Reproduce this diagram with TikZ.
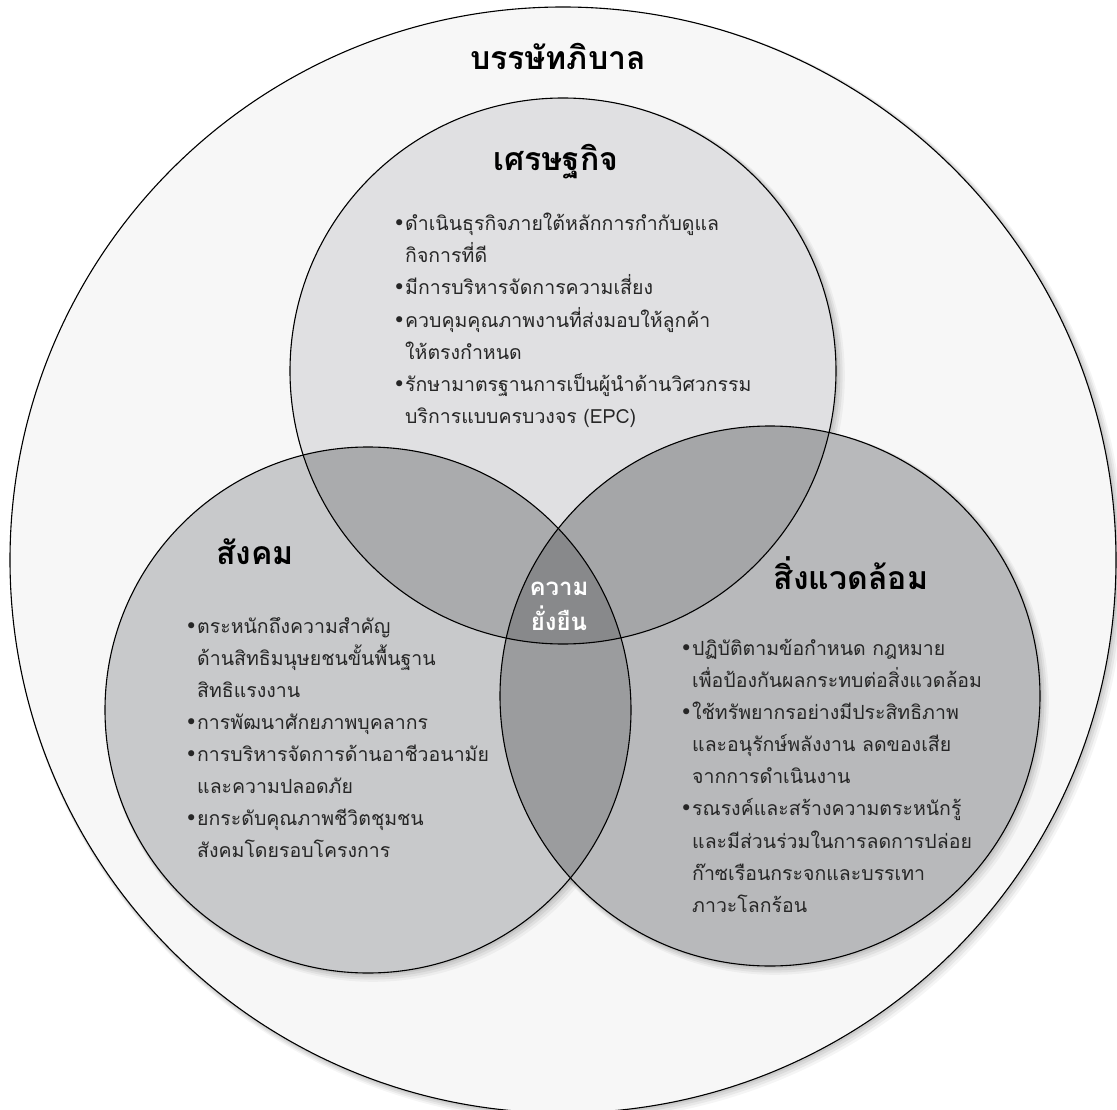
\documentclass[tikz,border=0pt]{standalone}
\usepackage{fontspec}
\usetikzlibrary{calc}
\newfontfamily\thai[Script=Thai]{Loma}
\newfontfamily\sym{DejaVu Sans}
\definecolor{cbg}{HTML}{F7F7F7}
\definecolor{ctop}{HTML}{E0E0E2}
\definecolor{cleft}{HTML}{C8C9CB}
\definecolor{cright}{HTML}{B8B9BB}
\definecolor{ctl}{HTML}{AAABAD}
\definecolor{ctr}{HTML}{A5A6A8}
\definecolor{clr}{HTML}{9B9C9E}
\definecolor{cmid}{HTML}{88898B}
\newcommand{\bul}{\makebox[11pt][l]{\hspace*{-1pt}\sym\fontsize{21}{21}\selectfont •}}
\newcommand{\ind}{\hspace*{11pt}}
\tikzset{
  ring/.style={draw=black, line width=1.1pt},
  head/.style={font=\thai\bfseries\fontsize{32}{36}\selectfont, inner sep=0pt},
  body/.style={font=\thai\fontsize{19.5}{32.1}\selectfont, align=left, anchor=north west, inner sep=0pt, text=black!85},
}
\begin{document}
\begin{tikzpicture}[x=1pt,y=-1pt]
\useasboundingbox (0,0) rectangle (1117,1110);
\fill[white] (0,0) rectangle (1117,1110);
\begin{scope}
\clip (0,0) rectangle (1117,1110);
\coordinate (O) at (563,560);
\coordinate (T) at (563,371);
\coordinate (L) at (368,710);
\coordinate (R) at (770,696);
% soft shadows
\foreach \k/\o in {8/0.04,6/0.05,4/0.06,2/0.07}{
  \fill[black,opacity=\o] ($(O)+(\k*0.6,\k*0.6)$) circle (553+\k*0.5);
}
\fill[cbg] (O) circle (553);
\draw[ring] (O) circle (553);
\foreach \k/\o in {8/0.04,6/0.05,4/0.06,2/0.07}{
  \fill[black,opacity=\o] ($(T)+(\k*0.6,\k*0.6)$) circle (273+\k*0.5);
  \fill[black,opacity=\o] ($(L)+(\k*0.6,\k*0.6)$) circle (263+\k*0.5);
  \fill[black,opacity=\o] ($(R)+(\k*0.6,\k*0.6)$) circle (270+\k*0.5);
}
\end{scope}
\fill[ctop] (T) circle (273);
\fill[cleft] (L) circle (263);
\fill[cright] (R) circle (270);
\begin{scope}\clip (T) circle (273); \fill[ctl] (L) circle (263);\end{scope}
\begin{scope}\clip (T) circle (273); \fill[ctr] (R) circle (270);\end{scope}
\begin{scope}\clip (L) circle (263); \fill[clr] (R) circle (270);\end{scope}
\begin{scope}\clip (T) circle (273); \clip (L) circle (263); \fill[cmid] (R) circle (270);\end{scope}
\draw[ring] (T) circle (273);
\draw[ring] (L) circle (263);
\draw[ring] (R) circle (270);
% headings
\node[head] (title) at (558,56) {บรรษัทภิบาล};
\node[head] (eco) at (556,162) {เศรษฐกิจ};
\node[head] (soc) at (255,552) {สังคม};
\node[head] (env) at (851,573) {สิ่งแวดล้อม};
\node[head, font=\thai\bfseries\fontsize{24}{35}\selectfont, text=white, align=center] (sus) at (559,606) {ความ\\ยั่งยืน};
% body texts
\node[body] (ecotext) at (394,213) {\bul ดำเนินธุรกิจภายใต้หลักการกำกับดูแล\\
\ind กิจการที่ดี\\
\bul มีการบริหารจัดการความเสี่ยง\\
\bul ควบคุมคุณภาพงานที่ส่งมอบให้ลูกค้า\\
\ind ให้ตรงกำหนด\\
\bul รักษามาตรฐานการเป็นผู้นำด้านวิศวกรรม\\
\ind บริการแบบครบวงจร (EPC)};
\node[body] (soctext) at (186,617) {\bul ตระหนักถึงความสำคัญ\\
\ind ด้านสิทธิมนุษยชนขั้นพื้นฐาน\\
\ind สิทธิแรงงาน\\
\bul การพัฒนาศักยภาพบุคลากร\\
\bul การบริหารจัดการด้านอาชีวอนามัย\\
\ind และความปลอดภัย\\
\bul ยกระดับคุณภาพชีวิตชุมชน\\
\ind สังคมโดยรอบโครงการ};
\node[body] (envtext) at (681,639) {\bul ปฏิบัติตามข้อกำหนด กฎหมาย\\
\ind เพื่อป้องกันผลกระทบต่อสิ่งแวดล้อม\\
\bul ใช้ทรัพยากรอย่างมีประสิทธิภาพ\\
\ind และอนุรักษ์พลังงาน ลดของเสีย\\
\ind จากการดำเนินงาน\\
\bul รณรงค์และสร้างความตระหนักรู้\\
\ind และมีส่วนร่วมในการลดการปล่อย\\
\ind ก๊าซเรือนกระจกและบรรเทา\\
\ind ภาวะโลกร้อน};
\end{tikzpicture}
\end{document}
